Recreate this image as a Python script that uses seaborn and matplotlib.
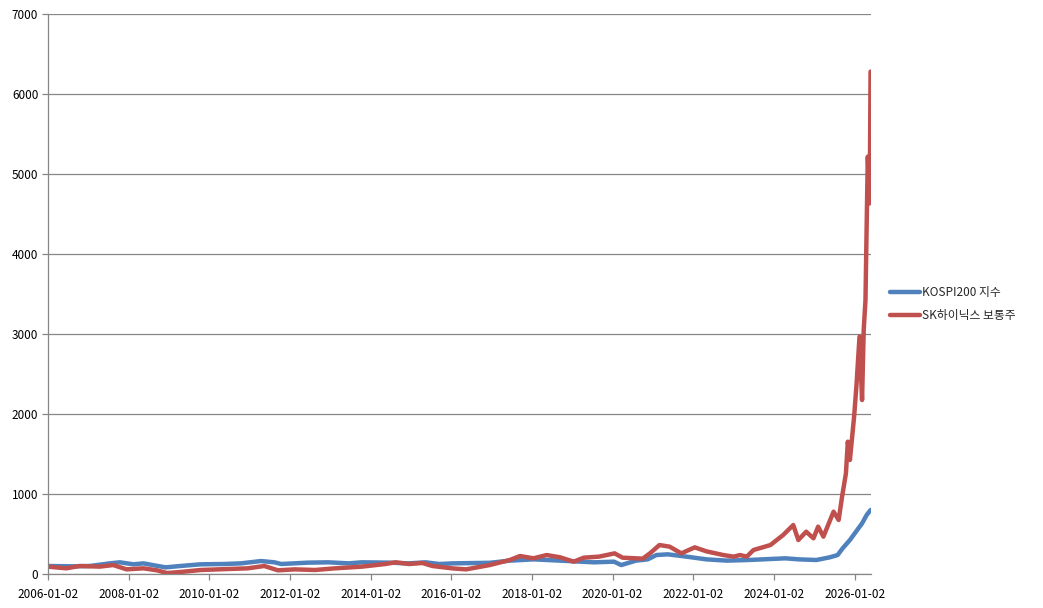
import matplotlib
matplotlib.use("Agg")
import matplotlib.pyplot as plt
import seaborn as sns
import pandas as pd

# ---- data ----
kospi_dates = ["2006-01-02", "2006-08-15", "2007-01-15", "2007-07-15", "2007-10-15",
               "2008-02-15", "2008-05-15", "2008-12-01", "2009-04-15", "2009-10-15",
               "2010-05-15", "2010-10-15", "2011-04-15", "2011-08-15", "2011-10-15",
               "2012-06-15", "2012-12-15", "2013-06-15", "2013-10-15", "2014-06-15",
               "2014-12-15", "2015-05-15", "2015-09-15", "2016-01-15", "2016-12-15",
               "2017-06-15", "2018-01-15", "2018-09-15", "2019-07-15", "2020-01-15",
               "2020-03-20", "2020-08-01", "2020-11-15", "2021-02-01", "2021-05-15",
               "2021-11-01", "2022-05-01", "2022-11-01", "2023-05-15", "2024-04-15",
               "2024-08-15", "2025-01-20", "2025-05-20", "2025-08-01", "2025-09-15",
               "2025-11-20", "2026-01-25", "2026-03-10", "2026-04-22", "2026-05-26"]
kospi_vals = [100, 96, 100, 133, 146,
              121, 133, 83, 100, 121,
              125, 133, 162, 146, 125,
              142, 146, 133, 146, 142,
              133, 146, 125, 133, 140,
              167, 183, 167, 146, 154,
              112, 167, 183, 237, 246,
              217, 183, 167, 175, 196,
              183, 175, 208, 237, 321,
              425, 550, 633, 740, 800]

hynix_dates = ["2006-01-02", "2006-06-15", "2006-10-15", "2007-04-15", "2007-08-15",
               "2007-12-15", "2008-05-15", "2008-09-15", "2008-12-15", "2009-04-15",
               "2009-10-15", "2010-06-15", "2010-12-15", "2011-05-15", "2011-09-15",
               "2012-02-15", "2012-08-15", "2013-02-15", "2013-10-15", "2014-05-15",
               "2014-08-15", "2014-12-15", "2015-04-15", "2015-07-15", "2016-01-15",
               "2016-05-15", "2016-12-15", "2017-06-15", "2017-09-15", "2018-01-15",
               "2018-05-15", "2018-09-15", "2019-01-15", "2019-04-15", "2019-09-01",
               "2020-01-20", "2020-04-01", "2020-10-01", "2020-12-05", "2021-03-01",
               "2021-06-01", "2021-09-15", "2022-01-15", "2022-05-01", "2022-10-01",
               "2023-01-01", "2023-03-01", "2023-05-01", "2023-07-01", "2023-12-01",
               "2024-03-25", "2024-06-25", "2024-08-10", "2024-10-20", "2024-12-25",
               "2025-02-05", "2025-03-25", "2025-06-25", "2025-08-10", "2025-09-10",
               "2025-10-15", "2025-11-01", "2025-11-20", "2025-12-28", "2026-01-18",
               "2026-02-15", "2026-03-10", "2026-03-25", "2026-04-10", "2026-04-22",
               "2026-05-01", "2026-05-18", "2026-05-26"]
hynix_vals = [92, 71, 100, 92, 112,
              58, 71, 46, 12, 25,
              50, 62, 71, 100, 46,
              58, 50, 71, 92, 125,
              146, 125, 138, 100, 70,
              58, 112, 175, 225, 196,
              237, 208, 154, 204, 217,
              258, 204, 192, 258, 362,
              342, 258, 333, 283, 237,
              217, 237, 217, 300, 362,
              487, 612, 425, 529, 446,
              592, 467, 779, 675, 967,
              1258, 1654, 1425, 1967, 2350,
              2967, 2175, 3050, 3425, 4467,
              5217, 4633, 6280]

series_names = ["KOSPI200 지수", "SK하이닉스 보통주"]
colors = ["#4F81BD", "#C0504D"]
y_ticks = [0, 1000, 2000, 3000, 4000, 5000, 6000, 7000]
x_tick_labels = ["2006-01-02", "2008-01-02", "2010-01-02", "2012-01-02", "2014-01-02",
                 "2016-01-02", "2018-01-02", "2020-01-02", "2022-01-02", "2024-01-02",
                 "2026-01-02"]

df = pd.concat([
    pd.DataFrame({"date": pd.to_datetime(kospi_dates), "value": kospi_vals, "series": series_names[0]}),
    pd.DataFrame({"date": pd.to_datetime(hynix_dates), "value": hynix_vals, "series": series_names[1]}),
], ignore_index=True)

sns.set_style("white")
plt.rcParams["font.family"] = ["Noto Sans CJK KR", "DejaVu Sans"]

fig = plt.figure(figsize=(10.43, 6.08), dpi=100)
ax = fig.add_axes([48 / 1043, 1 - 574 / 608, (871 - 48) / 1043, (574 - 14) / 608])

sns.lineplot(data=df, x="date", y="value", hue="series", palette=colors,
             hue_order=series_names, linewidth=3.2, ax=ax, legend=True)

ax.set_ylim(0, 7000)
ax.set_yticks(y_ticks)
ax.set_xlim(pd.Timestamp("2006-01-02"), pd.Timestamp("2026-05-30"))
ax.set_xticks(pd.to_datetime(x_tick_labels))
ax.set_xticklabels(x_tick_labels)
ax.set_xlabel("")
ax.set_ylabel("")

ax.yaxis.grid(True, color="#868686", linewidth=0.9)
ax.set_axisbelow(True)
for s in ["top", "right"]:
    ax.spines[s].set_visible(False)
for s in ["left", "bottom"]:
    ax.spines[s].set_color("#868686")
    ax.spines[s].set_linewidth(0.9)
ax.tick_params(axis="both", which="major", direction="out", length=4, width=0.9,
               color="#868686", labelsize=8.5, labelcolor="#000000", pad=3)
ax.tick_params(axis="x", pad=6)
ax.tick_params(left=True, bottom=True)

handles, labels = ax.get_legend_handles_labels()
ax.legend(handles, labels, loc="center left", bbox_to_anchor=(885 / 1043, 1 - 304 / 608),
          bbox_transform=fig.transFigure, frameon=False, fontsize=8.5,
          handlelength=2.6, handletextpad=0.1, labelspacing=0.9, borderaxespad=0)

fig.savefig("out.png", dpi=100)
